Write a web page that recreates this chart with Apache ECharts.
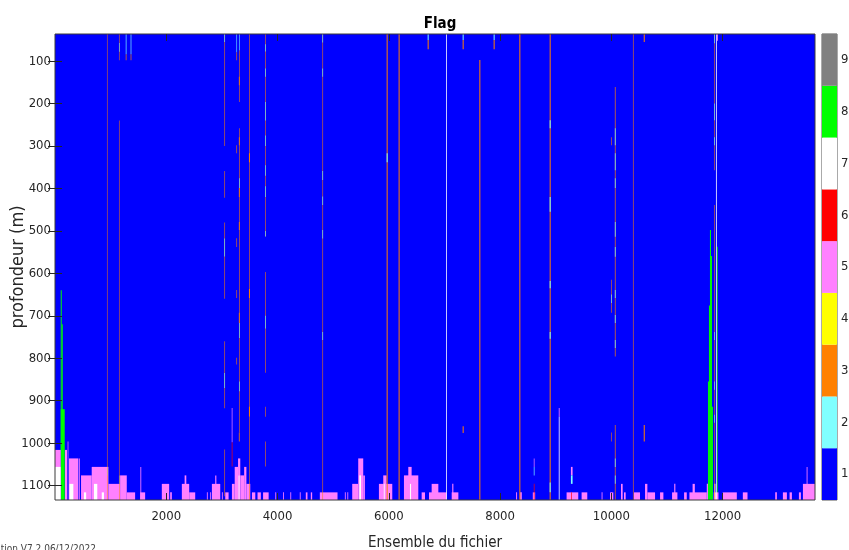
<!DOCTYPE html>
<html>
<head>
<meta charset="utf-8">
<script src="https://cdn.jsdelivr.net/npm/echarts@6/dist/echarts.min.js"></script>
<style>html,body{margin:0;padding:0;background:#fff;}#chart{width:849px;height:550px;}</style>
</head>
<body>
<div id="chart"></div>
<script>
// ---------- DATA ----------
const xTicks = [2000, 4000, 6000, 8000, 10000, 12000];
const yTicks = [100, 200, 300, 400, 500, 600, 700, 800, 900, 1000, 1100];
const flagLevels = [1, 2, 3, 4, 5, 6, 7, 8, 9];
const ensembleRange = [0, 13660];
const depthRange = [36, 1134];

// cells: [ensembleStart, ensembleEnd, depthTop, depthBottom, flag]
const backgroundCells = [[0, 13660, 36, 1134, 1]];

const greenCells = [
  [103, 121, 640, 1134, 8], [121, 139, 720, 1134, 8], [103, 175, 920, 1134, 8],
  [11736, 11754, 855, 1134, 8], [11754, 11772, 676, 1134, 8], [11772, 11790, 498, 1134, 8],
  [11790, 11808, 559, 1134, 8], [11808, 11826, 914, 1134, 8], [11898, 11910, 537, 1134, 8]
];

const bottomPink = [
  [0, 103, 1016, 1134, 5], [180, 216, 1016, 1134, 5], [228, 240, 996, 1134, 5],
  [252, 420, 1036, 1134, 5], [430, 445, 1036, 1134, 5], [468, 660, 1076, 1134, 5],
  [660, 960, 1056, 1134, 5], [960, 1170, 1096, 1134, 5], [1170, 1290, 1076, 1134, 5],
  [1290, 1440, 1116, 1134, 5], [1535, 1550, 1056, 1134, 5], [1530, 1620, 1116, 1134, 5],
  [1920, 2052, 1096, 1134, 5], [2070, 2100, 1116, 1134, 5], [2280, 2412, 1096, 1134, 5],
  [2330, 2360, 1076, 1134, 5], [2412, 2520, 1116, 1134, 5], [2730, 2745, 1116, 1134, 5],
  [2790, 2805, 1116, 1134, 5], [2820, 2970, 1096, 1134, 5], [2880, 2900, 1076, 1134, 5],
  [3000, 3015, 1116, 1134, 5], [3060, 3120, 1116, 1134, 5], [3180, 3230, 1096, 1134, 5],
  [3230, 3290, 1056, 1134, 5], [3290, 3330, 1036, 1134, 5], [3330, 3400, 1076, 1134, 5],
  [3400, 3440, 1056, 1134, 5], [3440, 3510, 1096, 1134, 5], [3540, 3600, 1116, 1134, 5],
  [3640, 3700, 1116, 1134, 5], [3740, 3840, 1116, 1134, 5], [3960, 3975, 1116, 1134, 5],
  [4100, 4115, 1116, 1134, 5], [4230, 4245, 1116, 1134, 5], [4400, 4415, 1116, 1134, 5],
  [4508, 4538, 1116, 1134, 5], [4598, 4622, 1116, 1134, 5], [4760, 5078, 1116, 1134, 5],
  [5210, 5225, 1116, 1134, 5], [5255, 5270, 1116, 1134, 5], [5342, 5450, 1096, 1134, 5],
  [5450, 5540, 1036, 1134, 5], [5540, 5570, 1076, 1134, 5], [5822, 6062, 1096, 1134, 5],
  [5900, 5960, 1076, 1134, 5], [6272, 6530, 1076, 1134, 5], [6350, 6410, 1056, 1134, 5],
  [6590, 6650, 1116, 1134, 5], [6722, 7040, 1116, 1134, 5], [6770, 6890, 1096, 1134, 5],
  [7130, 7250, 1116, 1134, 5], [7140, 7160, 1096, 1134, 5], [8288, 8305, 1116, 1134, 5],
  [8360, 8390, 1116, 1134, 5], [8588, 8630, 1116, 1134, 5], [8606, 8618, 1036, 1056, 5],
  [9195, 9405, 1116, 1134, 5], [9273, 9303, 1056, 1076, 5], [9465, 9567, 1116, 1134, 5],
  [9825, 9840, 1116, 1134, 5], [9975, 10035, 1116, 1134, 5], [10173, 10203, 1096, 1134, 5],
  [10227, 10257, 1116, 1134, 5], [10407, 10515, 1116, 1134, 5], [10605, 10647, 1096, 1134, 5],
  [10647, 10785, 1116, 1134, 5], [10875, 10935, 1116, 1134, 5], [11091, 11187, 1116, 1134, 5],
  [11130, 11150, 1096, 1134, 5], [11307, 11355, 1116, 1134, 5], [11403, 11715, 1116, 1134, 5],
  [11460, 11500, 1096, 1134, 5], [11715, 11736, 1096, 1134, 5], [11840, 11925, 1116, 1134, 5],
  [12003, 12255, 1116, 1134, 5], [12363, 12447, 1116, 1134, 5], [12945, 12975, 1116, 1134, 5],
  [13083, 13155, 1116, 1134, 5], [13203, 13245, 1116, 1134, 5], [13371, 13407, 1116, 1134, 5],
  [13443, 13660, 1096, 1134, 5], [13510, 13525, 1056, 1134, 5],
  [3177, 3189, 917, 998, 5], [9055, 9069, 917, 938, 5]
];

const bottomWhite = [
  [0, 100, 1056, 1134, 7], [260, 330, 1096, 1134, 7], [520, 560, 1116, 1134, 7],
  [700, 760, 1096, 1134, 7], [840, 880, 1116, 1134, 7], [3300, 3315, 1076, 1134, 7],
  [5470, 5500, 1076, 1134, 7], [5910, 5925, 1096, 1134, 7], [6380, 6400, 1096, 1134, 7],
  [11850, 11870, 1096, 1134, 7]
];

const otherFlags = [
  [8606, 8618, 1056, 1076, 2], [8606, 8618, 1096, 1134, 6], [9273, 9303, 1076, 1096, 2],
  [9280, 9292, 1116, 1134, 6], [3177, 3189, 998, 1055, 6], [934, 943, 1056, 1076, 2],
  [1150, 1159, 1076, 1096, 2]
];

const flagColumns = [
  [934, 943, 36, 1134, 3],
  [1150, 1159, 36, 98, 3], [1150, 1159, 240, 1134, 3], [1150, 1159, 57, 78, 2],
  [1272, 1284, 36, 84, 2], [1272, 1284, 84, 98, 3], [1360, 1372, 36, 84, 2], [1360, 1372, 84, 98, 3],
  [3046, 3056, 36, 300, 3], [3046, 3056, 359, 422, 3], [3046, 3056, 480, 660, 3],
  [3046, 3056, 760, 918, 3], [3046, 3056, 1015, 1125, 3], [3046, 3056, 36, 55, 2],
  [3046, 3056, 518, 560, 2], [3046, 3056, 835, 870, 2],
  [3262, 3272, 36, 79, 2], [3262, 3272, 79, 98, 3], [3262, 3272, 298, 317, 3],
  [3262, 3272, 517, 538, 3], [3262, 3272, 639, 658, 3], [3262, 3272, 799, 815, 3],
  [3307, 3317, 36, 75, 2], [3307, 3317, 75, 196, 3], [3307, 3317, 258, 975, 3],
  [3305, 3319, 137, 157, 3], [3305, 3319, 279, 298, 3], [3305, 3319, 399, 420, 3],
  [3305, 3319, 479, 498, 3], [3305, 3319, 693, 717, 3], [3307, 3317, 376, 399, 2],
  [3307, 3317, 717, 752, 2], [3307, 3317, 855, 878, 2], [3305, 3319, 975, 996, 3],
  [3490, 3500, 36, 1134, 3], [3486, 3504, 317, 338, 3], [3486, 3504, 637, 658, 3],
  [3486, 3504, 914, 937, 3],
  [3778, 3788, 36, 513, 3], [3778, 3788, 597, 834, 3], [3778, 3788, 914, 938, 3],
  [3778, 3788, 996, 1055, 3], [3778, 3788, 60, 77, 2], [3778, 3788, 117, 137, 2],
  [3778, 3788, 196, 240, 2], [3778, 3788, 275, 300, 2], [3778, 3788, 345, 370, 2],
  [3778, 3788, 395, 420, 2], [3778, 3788, 500, 513, 2], [3778, 3788, 700, 730, 2],
  [4808, 4818, 36, 1134, 3], [4808, 4818, 36, 56, 2], [4808, 4818, 117, 137, 2],
  [4808, 4818, 359, 380, 2], [4808, 4818, 419, 439, 2], [4808, 4818, 498, 518, 2],
  [4808, 4818, 738, 757, 2],
  [5961, 5979, 36, 1134, 3], [5961, 5979, 317, 338, 2],
  [6176, 6194, 36, 1134, 3],
  [6698, 6716, 36, 50, 2], [6698, 6716, 50, 72, 3],
  [7028, 7042, 36, 1134, 7],
  [7327, 7345, 36, 50, 2], [7327, 7345, 50, 72, 3], [7327, 7345, 960, 976, 3],
  [7627, 7645, 97, 1134, 3],
  [7884, 7902, 36, 50, 2], [7884, 7902, 50, 72, 3],
  [8346, 8364, 36, 1134, 3],
  [8891, 8909, 36, 1134, 3], [8891, 8909, 239, 258, 2], [8891, 8909, 420, 455, 2],
  [8891, 8909, 618, 635, 2], [8891, 8909, 738, 754, 2], [8891, 8909, 1093, 1116, 2],
  [9055, 9069, 938, 1134, 7],
  [9998, 10008, 279, 298, 3], [9998, 10008, 615, 693, 3], [9998, 10008, 650, 670, 2],
  [9998, 10008, 975, 996, 3],
  [10063, 10075, 161, 796, 3], [10063, 10075, 258, 298, 2], [10063, 10075, 317, 357, 2],
  [10063, 10075, 376, 399, 2], [10063, 10075, 479, 514, 2], [10063, 10075, 538, 561, 2],
  [10063, 10075, 639, 658, 2], [10063, 10075, 698, 717, 2], [10063, 10075, 757, 776, 2],
  [10063, 10075, 957, 1134, 3], [10063, 10075, 1036, 1056, 2], [10063, 10075, 1076, 1096, 2],
  [10388, 10398, 36, 1134, 3],
  [10582, 10600, 36, 55, 3], [10582, 10600, 957, 996, 3],
  [11848, 11858, 36, 357, 3], [11848, 11858, 439, 1134, 3], [11848, 11858, 36, 58, 2],
  [11848, 11858, 200, 239, 2], [11848, 11858, 279, 298, 2], [11848, 11858, 738, 757, 2],
  [11848, 11858, 855, 874, 2], [11848, 11858, 933, 952, 2],
  [11880, 11894, 36, 1134, 7], [11900, 11915, 36, 52, 5]
];

const watermark = 'Exploitation V7.2 06/12/2022';

// ---------- STYLE ----------
const flagColors = ['#0000ff', '#80ffff', '#ff8000', '#ffff00', '#ff80ff', '#ff0000', '#ffffff', '#00ff00', '#808080'];
const FONT = "'DejaVu Sans Condensed', 'Liberation Sans Narrow', 'Liberation Sans', sans-serif";
const TXT = '#262626';
const plain = v => String(v);

function renderCell(params, api) {
  const a = api.coord([api.value(0), api.value(2)]);
  const b = api.coord([api.value(1), api.value(3)]);
  const rect = echarts.graphic.clipRectByRect(
    { x: Math.min(a[0], b[0]), y: Math.min(a[1], b[1]), width: Math.abs(b[0] - a[0]), height: Math.abs(b[1] - a[1]) },
    { x: params.coordSys.x, y: params.coordSys.y, width: params.coordSys.width, height: params.coordSys.height }
  );
  if (!rect) return;
  return { type: 'rect', shape: rect, style: { fill: flagColors[api.value(4) - 1] } };
}

function cellSeries(data) {
  return { type: 'custom', xAxisIndex: 0, yAxisIndex: 0, renderItem: renderCell, data: data, silent: true, animation: false };
}

const colorbarCells = flagLevels.map(f => [0, 1, f - 0.5, f + 0.5, f]);

const chart = echarts.init(document.getElementById('chart'), null, { renderer: 'canvas' });
chart.setOption({
  animation: false,
  backgroundColor: '#ffffff',
  title: {
    text: 'Flag', left: 435, top: 12, textAlign: 'center',
    textStyle: { fontFamily: FONT, fontSize: 15, fontWeight: 'bold', color: '#000' }
  },
  grid: [
    { left: 55, right: 34, top: 34, bottom: 50, show: true, borderColor: '#3a3a3a', borderWidth: 1, backgroundColor: 'transparent', z: 10, containLabel: false, outerBoundsMode: 'none' },
    { left: 822, width: 15, top: 34, bottom: 50, show: true, borderColor: '#555', borderWidth: 1, containLabel: false, outerBoundsMode: 'none' }
  ],
  xAxis: [
    {
      type: 'value', gridIndex: 0, min: ensembleRange[0], max: ensembleRange[1],
      name: 'Ensemble du fichier', nameLocation: 'middle', nameGap: 36, nameMoveOverlap: false,
      nameTextStyle: { fontFamily: FONT, fontSize: 15, color: TXT },
      axisLine: { show: false }, splitLine: { show: false },
      axisTick: { show: true, inside: true, length: 7, customValues: xTicks, lineStyle: { color: '#262626' } },
      axisLabel: { customValues: xTicks, formatter: plain, fontFamily: FONT, fontSize: 13, color: TXT, margin: 10 },
      z: 20
    },
    {
      type: 'value', gridIndex: 0, position: 'top', min: ensembleRange[0], max: ensembleRange[1],
      axisLine: { show: false }, splitLine: { show: false }, axisLabel: { show: false },
      axisTick: { show: true, inside: true, length: 7, customValues: xTicks, lineStyle: { color: '#262626' } },
      z: 20
    },
    { type: 'value', gridIndex: 1, min: 0, max: 1, show: false }
  ],
  yAxis: [
    {
      type: 'value', gridIndex: 0, inverse: true, min: depthRange[0], max: depthRange[1],
      name: 'profondeur (m)', nameLocation: 'middle', nameGap: 28, nameMoveOverlap: false,
      nameTextStyle: { fontFamily: FONT, fontSize: 18, color: TXT },
      axisLine: { show: false }, splitLine: { show: false },
      axisTick: { show: true, inside: true, length: 7, customValues: yTicks, lineStyle: { color: '#262626' } },
      axisLabel: { customValues: yTicks, formatter: plain, fontFamily: FONT, fontSize: 13, color: TXT, margin: 4 },
      z: 20
    },
    {
      type: 'value', gridIndex: 0, position: 'right', inverse: true, min: depthRange[0], max: depthRange[1],
      axisLine: { show: false }, splitLine: { show: false }, axisLabel: { show: false },
      axisTick: { show: true, inside: true, length: 7, customValues: yTicks, lineStyle: { color: '#262626' } },
      z: 20
    },
    {
      type: 'value', gridIndex: 1, position: 'right', min: 0.5, max: 9.5,
      axisLine: { show: false }, splitLine: { show: false },
      axisTick: { show: true, length: 3, customValues: flagLevels, lineStyle: { color: '#555' } },
      axisLabel: { customValues: flagLevels, formatter: plain, fontFamily: FONT, fontSize: 13, color: TXT, margin: 4 }
    }
  ],
  series: [
    cellSeries(backgroundCells),
    cellSeries(greenCells),
    cellSeries(bottomPink),
    cellSeries(bottomWhite),
    cellSeries(otherFlags),
    cellSeries(flagColumns),
    { type: 'custom', xAxisIndex: 2, yAxisIndex: 2, renderItem: renderCell, data: colorbarCells, silent: true, animation: false }
  ],
  graphic: [
    { type: 'text', x: 96, y: 544, style: { text: watermark, align: 'right', verticalAlign: 'top', fontFamily: FONT, fontSize: 10, fill: '#444' } }
  ]
});
</script>
</body>
</html>
